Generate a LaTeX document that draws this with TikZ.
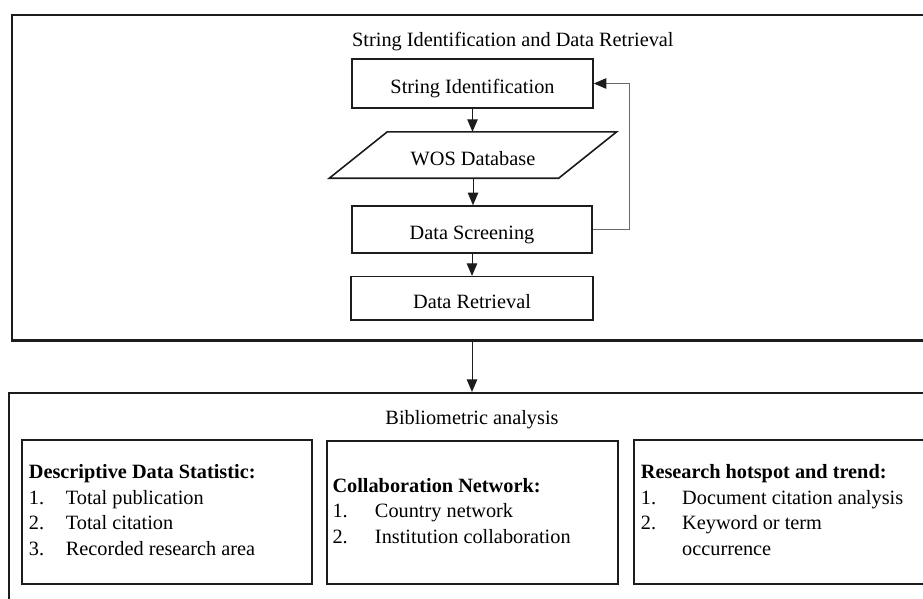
\documentclass[tikz,border=0pt]{standalone}
\usepackage{fontspec}
\setmainfont{Liberation Serif}
\usetikzlibrary{arrows.meta}
\definecolor{ink}{HTML}{1C1C1C}
\definecolor{loopline}{HTML}{6A6A6A}
\begin{document}
\begin{tikzpicture}[x=1pt,y=-1pt,
  every node/.style={font=\fontsize{20.3}{25.5}\selectfont},
  frame/.style={draw=ink, line width=2.2pt, rectangle, inner sep=0pt},
  flowbox/.style={draw=ink, line width=1.6pt, rectangle, inner sep=0pt,
    text height=25.4pt, text depth=4.5pt},
  datashape/.style={draw=ink, line width=1.6pt, line join=miter},
  flowtext/.style={inner sep=0pt, text height=25.4pt, text depth=4.5pt},
  catbox/.style={draw=ink, line width=1.6pt, rectangle, inner sep=0pt,
    minimum width=290pt, minimum height=144pt},
  listtext/.style={inner sep=0pt, anchor=west, align=left},
  flowarrow/.style={draw=ink, line width=0.9pt,
    -{Triangle[length=12.5pt,width=10.5pt]}},
  looparrow/.style={draw=loopline, line width=0.9pt,
    -{Triangle[length=12.5pt,width=10.5pt,color=ink]}}
]
\useasboundingbox (0,0) rectangle (923,598);
\clip (0,0) rectangle (923,598);

% outer frames (they run past the right and bottom edges)
\node[frame, minimum width=938pt, minimum height=325.5pt] (topframe) at (481,177.75) {};
\node[frame, minimum width=941pt, minimum height=247pt] (botframe) at (479.5,516.5) {};

% upper stage: search string and retrieval
\node[anchor=base west, inner sep=0pt] (toptitle) at (352,46.5)
  {String Identification and Data Retrieval};
\node[flowbox, minimum width=241pt, minimum height=49pt] (strid) at (472.5,83.5)
  {String Identification};
\node[flowtext, minimum width=229pt, minimum height=46pt] (wos) at (473,155)
  {WOS Database};
\draw[datashape] ([xshift=29pt]wos.north west) -- ([xshift=29pt]wos.north east)
  -- ([xshift=-29pt]wos.south east) -- ([xshift=-29pt]wos.south west) -- cycle;
\node[flowbox, minimum width=240pt, minimum height=47pt] (screen) at (472,229.5)
  {Data Screening};
\node[flowbox, minimum width=242pt, minimum height=43.3pt] (retr) at (472,298.3)
  {Data Retrieval};

\draw[flowarrow] (strid.south) -- (strid.south |- wos.north);
\draw[flowarrow] (wos.south) -- (wos.south |- screen.north);
\draw[flowarrow] (screen.south) -- (retr.north);
\draw[looparrow] (screen.east) -- ++(37,0) |- (strid.east);
\draw[flowarrow] (retr.south |- topframe.south) -- (retr.south |- botframe.north);

% lower stage: bibliometric analysis
\node[anchor=base, inner sep=0pt] (bottitle) at (472,424) {Bibliometric analysis};
\node[catbox] (desc) at (166.9,512) {};
\node[catbox, minimum width=291pt, minimum height=143pt] (collab) at (472.3,512.5) {};
\node[catbox, minimum width=291pt] (hot) at (779.5,512) {};

\node[listtext] (desctext) at ([xshift=7.6pt]desc.west)
  {\begin{tabular}{@{}p{37pt}@{}l@{}}
   \multicolumn{2}{@{}l@{}}{\bfseries Descriptive Data Statistic:}\\
   1. & Total publication\\
   2. & Total citation\\
   3. & Recorded research area
   \end{tabular}};
\node[listtext] (collabtext) at ([xshift=6.3pt]collab.west)
  {\begin{tabular}{@{}p{42.5pt}@{}l@{}}
   \multicolumn{2}{@{}l@{}}{\bfseries Collaboration Network:}\\
   1. & Country network\\
   2. & Institution collaboration
   \end{tabular}};
\node[listtext] (hottext) at ([xshift=7.5pt]hot.west)
  {\begin{tabular}{@{}p{41.3pt}@{}l@{}}
   \multicolumn{2}{@{}l@{}}{\bfseries Research hotspot and trend:}\\
   1. & Document citation analysis\\
   2. & Keyword or term\\
      & occurrence
   \end{tabular}};
\end{tikzpicture}
\end{document}
